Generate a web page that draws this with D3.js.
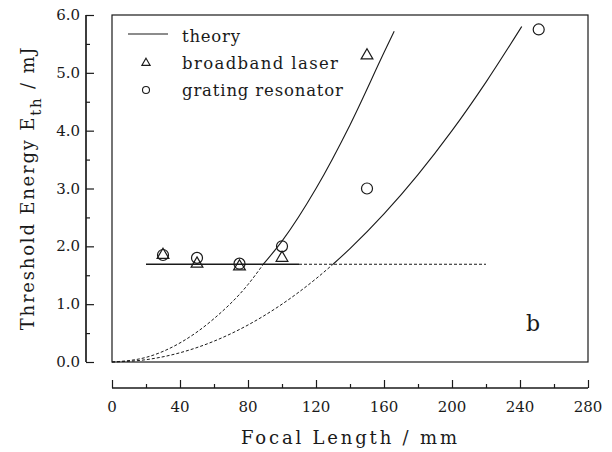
<!DOCTYPE html>
<html>
<head>
<meta charset="utf-8">
<script src="https://d3js.org/d3.v7.min.js"></script>
</head>
<body style="margin:0; background:#fff">
<svg id="chart" width="612" height="452"></svg>
<script>
  // data
  let broadband = [[30, 1.85], [50, 1.7], [75, 1.65], [100, 1.8], [150, 5.3]];
  let grating = [[30, 1.85], [50, 1.8], [75, 1.7], [100, 2.0], [150, 3.0], [251, 5.75]];

  // theory curves (read points)
  let theory1 = [[0, 0], [20, 0.08], [40, 0.33], [60, 0.75], [80, 1.34], [89, 1.69],
                 [100, 2.09], [120, 3.0], [140, 4.1], [160, 5.35], [166, 5.72]];
  let theory2 = [[0, 0], [20, 0.04], [40, 0.16], [60, 0.36], [80, 0.64], [100, 1.0],
                 [120, 1.44], [130, 1.69], [140, 1.96], [160, 2.56], [180, 3.24],
                 [200, 4.0], [220, 4.84], [241, 5.8]];
  let plateau = 1.69;
  let plateauSolid = [20, 110];
  let plateauDashed = [110, 220];

  let xTicks = [0, 40, 80, 120, 160, 200, 240, 280];
  let yTicks = [0, 1, 2, 3, 4, 5, 6];
  let legendText = ["theory", "broadband laser", "grating resonator"];

  let svg = d3.select("#chart")
    .style("font-family", '"DejaVu Serif", "Liberation Serif", serif');
  let mLeft = 112, mRight = 588, mTop = 15, mBottom = 362;
  let ink = "#1a1a1a";

  let x = d3.scaleLinear().domain([0, 280]).range([mLeft, mRight]);
  let y = d3.scaleLinear().domain([0, 6]).range([mBottom, mTop]);

  // frame
  svg.append("rect")
    .attr("x", mLeft).attr("y", mTop)
    .attr("width", mRight - mLeft).attr("height", mBottom - mTop)
    .attr("fill", "none").attr("stroke", ink).attr("stroke-width", 1.2);

  // y axis (offset to the left)
  let yAxis = svg.append("g").attr("transform", "translate(86,0)");
  yAxis.call(d3.axisRight(y).tickValues(yTicks).tickSize(8).tickFormat(""));
  yAxis.append("g").call(d3.axisRight(y).tickValues(d3.range(0.5, 6, 1)).tickSize(4).tickFormat(""));
  yAxis.selectAll("path.domain").attr("d", `M0,${mBottom}V${mTop}`);
  yAxis.selectAll("path, line").attr("stroke", ink).attr("stroke-width", 1.2);
  svg.selectAll(".ylab").data(yTicks).join("text")
    .attr("x", 80).attr("y", d => y(d) + 5)
    .attr("text-anchor", "end").attr("font-size", 15).attr("fill", ink)
    .text(d => d.toFixed(1));

  // x axis (offset below)
  let xAxis = svg.append("g").attr("transform", "translate(0,388)");
  xAxis.call(d3.axisTop(x).tickValues(xTicks).tickSize(8).tickFormat(""));
  xAxis.append("g").call(d3.axisTop(x).tickValues(d3.range(20, 280, 40)).tickSize(4).tickFormat(""));
  xAxis.selectAll("path.domain").attr("d", `M${mLeft},0H${mRight}`);
  xAxis.selectAll("path, line").attr("stroke", ink).attr("stroke-width", 1.2);
  svg.selectAll(".xlab").data(xTicks).join("text")
    .attr("x", d => x(d)).attr("y", 412)
    .attr("text-anchor", "middle").attr("font-size", 15).attr("fill", ink)
    .text(d => d);

  // axis titles
  svg.append("text").attr("x", 241).attr("y", 444)
    .attr("font-size", 18).attr("fill", ink)
    .attr("textLength", 216).attr("lengthAdjust", "spacing")
    .text("Focal Length / mm");
  let yt = svg.append("text")
    .attr("transform", "translate(34,188) rotate(-90)")
    .attr("text-anchor", "middle").attr("font-size", 18).attr("fill", ink)
    .attr("letter-spacing", 1.8);
  yt.append("tspan").text("Threshold Energy E");
  yt.append("tspan").attr("font-size", 15).attr("dy", 7).text("th");
  yt.append("tspan").attr("dy", -7).text("  / mJ");

  let line = d3.line().x(d => x(d[0])).y(d => y(d[1])).curve(d3.curveMonotoneX);

  // theory curves: dashed below the plateau, solid above
  [theory1, theory2].forEach(c => {
    let below = c.filter(d => d[1] <= plateau);
    let above = c.filter(d => d[1] >= plateau);
    svg.append("path").attr("d", line(below))
      .attr("fill", "none").attr("stroke", ink).attr("stroke-width", 1)
      .attr("stroke-dasharray", "3,2");
    svg.append("path").attr("d", line(above))
      .attr("fill", "none").attr("stroke", ink).attr("stroke-width", 1.1);
  });

  svg.append("line")
    .attr("x1", x(plateauSolid[0])).attr("x2", x(plateauSolid[1]))
    .attr("y1", y(plateau)).attr("y2", y(plateau))
    .attr("stroke", ink).attr("stroke-width", 1.3);
  svg.append("line")
    .attr("x1", x(plateauDashed[0])).attr("x2", x(plateauDashed[1]))
    .attr("y1", y(plateau)).attr("y2", y(plateau))
    .attr("stroke", ink).attr("stroke-width", 1).attr("stroke-dasharray", "3,2");

  // markers
  let tri = d3.symbol().type(d3.symbolTriangle).size(60);
  svg.selectAll(".tri").data(broadband).join("path")
    .attr("d", tri)
    .attr("transform", d => `translate(${x(d[0])},${y(d[1])})`)
    .attr("fill", "none").attr("stroke", ink).attr("stroke-width", 1.2);
  svg.selectAll(".circ").data(grating).join("circle")
    .attr("cx", d => x(d[0])).attr("cy", d => y(d[1])).attr("r", 5.5)
    .attr("fill", "none").attr("stroke", ink).attr("stroke-width", 1.2);

  // legend
  svg.append("line").attr("x1", 128).attr("x2", 168).attr("y1", 34).attr("y2", 34)
    .attr("stroke", ink).attr("stroke-width", 1.2);
  svg.append("path").attr("d", d3.symbol().type(d3.symbolTriangle).size(30))
    .attr("transform", "translate(146,63)")
    .attr("fill", "none").attr("stroke", ink).attr("stroke-width", 1.1);
  svg.append("circle").attr("cx", 146).attr("cy", 90).attr("r", 3.5)
    .attr("fill", "none").attr("stroke", ink).attr("stroke-width", 1.1);
  let legendLen = [58, 156, 161];
  svg.selectAll(".leg").data(legendText).join("text")
    .attr("x", 182).attr("y", (d, i) => 42 + i * 27)
    .attr("font-size", 16.5).attr("fill", ink)
    .attr("textLength", (d, i) => legendLen[i]).attr("lengthAdjust", "spacing")
    .text(d => d);

  svg.append("text").attr("x", 526).attr("y", 331).attr("font-size", 22).attr("fill", ink).text("b");
</script>
</body>
</html>
